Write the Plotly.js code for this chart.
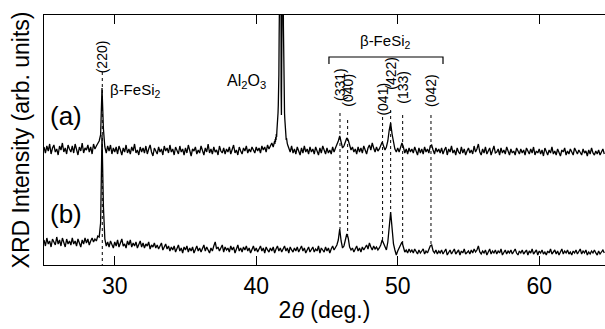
<!DOCTYPE html>
<html><head><meta charset="utf-8">
<script src="https://cdn.plot.ly/plotly-3.0.1.min.js"></script>
<style>html,body{margin:0;padding:0;background:#fff}</style>
</head><body><div id="chart" style="width:605px;height:329px"></div>
<script>
// 2theta grid: start and step (deg.)
const twoThetaStart = 25;
const twoThetaStep = 0.1;

// trace (a), arbitrary units (offset for display); null where the fine Al2O3 scan takes over
const intensityA = [
118,112,119,114,121,111,117,120,113,116,
110,119,115,122,113,117,111,120,116,113,
119,112,121,115,110,118,114,122,112,117,
115,120,113,118,111,121,116,119,122,124,
130,177,136,118,112,119,114,120,111,117,
113,118,111,119,115,110,117,113,120,112,
116,111,118,114,121,112,115,110,118,113,
117,112,119,111,116,120,113,109,117,114,
111,118,113,116,110,119,114,117,112,120,
113,116,110,118,114,111,119,113,116,110,
117,112,120,113,109,116,114,118,111,115,
112,119,114,110,117,113,121,112,116,111,
118,113,115,110,119,114,112,117,111,116,
113,118,111,116,120,112,115,110,118,114,
111,117,114,119,112,116,113,118,115,112,
118,114,117,112,119,115,118,113,120,116,
119,122,118,124,null,null,null,null,null,null,
null,null,121,117,113,119,112,116,111,118,
114,110,117,112,119,113,116,111,118,113,
116,111,118,113,110,117,112,119,114,111,
117,112,115,111,118,113,117,120,124,129,
122,117,119,123,127,125,119,115,118,113,
116,111,118,113,117,112,119,114,111,117,
120,115,122,117,113,118,114,116,119,123,
119,115,118,124,135,142,131,121,116,113,
117,113,118,122,118,112,116,111,117,113,
116,112,118,113,110,117,112,116,111,118,
113,116,112,119,120,115,111,117,113,116,
112,117,111,115,118,110,116,113,119,112,
115,110,117,113,111,118,112,116,110,114,
117,112,115,111,119,113,116,121,113,110,
116,112,118,111,114,117,110,115,119,112,
113,116,110,117,112,115,111,118,113,110,
116,112,114,110,117,113,111,116,112,115,
110,117,113,111,116,112,118,110,114,112,
116,111,115,109,117,113,110,115,112,118,
111,114,110,116,112,109,115,113,117,110,
114,111,116,112,110,117,113,111,115,112,
110,116,112,114,109,115,111,117,112,110,
114,111,115,110,113,116,111
];

// trace (a), fine scan over the Al2O3 substrate peak
const al2o3Start = 41.3;
const al2o3Step = 0.02;
const intensityA_Al2O3 = [
124,121,126,123,128,125,131,128,134,137,
141,146,152,160,172,190,230,300,400,330,
400,360,400,175,150,200,400,320,400,340,
400,240,195,172,160,152,146,139,136,131,
129,125,127,122,124,121
];

// trace (b)
const intensityB = [
25,19,27,21,24,18,26,22,20,28,
21,25,19,27,22,18,26,21,24,20,
27,21,24,19,26,22,18,25,21,27,
22,26,20,24,27,23,26,24,29,28,
42,130,58,26,19,23,18,24,20,17,
23,19,25,18,22,26,19,21,17,24,
20,25,18,22,19,23,17,21,24,18,
22,17,21,19,23,16,20,18,22,17,
20,16,19,22,15,18,21,16,19,14,
18,15,19,13,17,20,14,17,12,18,
15,19,13,17,14,18,12,16,19,14,
17,13,16,20,14,18,15,12,17,14,
19,23,16,18,14,17,20,13,18,15,
17,13,19,15,18,12,16,20,14,17,
13,18,15,19,14,17,12,16,19,14,
17,13,16,19,14,17,12,18,15,13,
17,14,18,12,16,19,14,17,13,16,
19,14,17,12,18,15,13,17,14,18,
13,16,19,14,17,12,16,18,13,15,
18,13,16,14,19,12,17,15,13,18,
14,17,12,16,19,15,18,20,25,36,
24,17,19,25,31,27,18,15,17,13,
16,19,14,17,13,18,15,17,20,16,
22,18,15,19,16,18,15,17,20,25,
21,17,15,23,39,53,37,21,15,10,
14,17,19,23,18,13,15,12,16,13,
15,12,16,13,11,15,12,14,16,11,
14,12,16,19,20,14,12,15,11,14,
12,15,11,14,16,10,13,15,11,14,
16,11,13,15,10,14,12,16,11,13,
14,11,15,12,16,13,15,19,13,11,
14,12,15,10,13,16,11,14,12,15,
11,14,12,16,10,13,15,11,14,12,
15,11,13,16,12,10,14,12,15,11,
13,15,10,14,12,16,11,13,15,10,
14,12,15,11,13,10,14,12,16,11,
13,15,11,14,10,13,16,11,14,12,
15,11,13,10,14,12,15,11,13,16,
11,14,12,15,10,13,11,14,12,15,
12,10,14,11,13,15,12
];

// beta-FeSi2 reflections
const peakLabels = ['(220)', '(331)', '(040)', '(041)', '(422)', '(133)', '(042)'];
const peakPositions = [29.12, 45.92, 46.46, 48.93, 49.5, 50.35, 52.35];
const xTickVals = [30, 40, 50, 60];

const FONT = 'Liberation Sans, Arial, Helvetica, sans-serif';
const LINE = {color: '#000', width: 1.3};

const traces = [
  {type: 'scatter', mode: 'lines', x0: twoThetaStart, dx: twoThetaStep, y: intensityA,
   line: LINE, connectgaps: false, hoverinfo: 'skip', showlegend: false},
  {type: 'scatter', mode: 'lines', x0: al2o3Start, dx: al2o3Step, y: intensityA_Al2O3,
   line: LINE, hoverinfo: 'skip', showlegend: false},
  {type: 'scatter', mode: 'lines', x0: twoThetaStart, dx: twoThetaStep, y: intensityB,
   line: LINE, hoverinfo: 'skip', showlegend: false}
];

// label layout (display positions)
const labelY = [208, 181, 175, 166, 192, 178, 175];
const dotTop = [193, 152, 145, 148, 155, 150, 150];

function bValueAt(x) {
  const i = Math.round((x - twoThetaStart) / twoThetaStep);
  return intensityB[i];
}

const shapes = [];
const annotations = [];
peakPositions.forEach((p, k) => {
  shapes.push({type: 'line', xref: 'x', yref: 'y', x0: p, x1: p,
    y0: dotTop[k], y1: k === 0 ? 0 : bValueAt(p),
    line: {color: '#000', width: 1, dash: 'dot'}});
  annotations.push({xref: 'x', yref: 'y', x: p, y: labelY[k], text: peakLabels[k],
    textangle: -90, showarrow: false, xanchor: 'center', yanchor: 'middle',
    font: {family: FONT, size: 14, color: '#000'}});
});

// bracket over beta-FeSi2 group
const bracketX = [45.14, 53.2];
shapes.push({type: 'path', xref: 'x', yref: 'y',
  path: `M ${bracketX[0]} 201 L ${bracketX[0]} 208 L ${bracketX[1]} 208 L ${bracketX[1]} 201`,
  line: {color: '#000', width: 1.2}});

annotations.push(
  {xref: 'x', yref: 'y', x: 29.5, y: 175, text: 'β-FeSi<sub>2</sub>', showarrow: false,
   xanchor: 'left', yanchor: 'middle', font: {family: FONT, size: 15, color: '#000'}},
  {xref: 'x', yref: 'y', x: 49.1, y: 224, text: 'β-FeSi<sub>2</sub>', showarrow: false,
   xanchor: 'center', yanchor: 'middle', font: {family: FONT, size: 15, color: '#000'}},
  {xref: 'x', yref: 'y', x: 39.3, y: 184, text: 'Al<sub>2</sub>O<sub>3</sub>', showarrow: false,
   xanchor: 'center', yanchor: 'middle', font: {family: FONT, size: 16, color: '#000'}},
  {xref: 'x', yref: 'y', x: 26.55, y: 149, text: '(a)', showarrow: false,
   xanchor: 'center', yanchor: 'middle', font: {family: FONT, size: 26, color: '#000'}},
  {xref: 'x', yref: 'y', x: 26.55, y: 51, text: '(b)', showarrow: false,
   xanchor: 'center', yanchor: 'middle', font: {family: FONT, size: 26, color: '#000'}}
);

const layout = {
  width: 605, height: 329,
  margin: {l: 44, r: 0, t: 15, b: 64},
  paper_bgcolor: '#fff', plot_bgcolor: '#fff',
  font: {family: FONT, color: '#000'},
  showlegend: false,
  xaxis: {
    range: [25, 64.65], tickvals: xTickVals, ticktext: xTickVals.map(String),
    ticks: 'inside', ticklen: 9, tickwidth: 1.2, tickcolor: '#000',
    showline: true, linecolor: '#000', linewidth: 1.2, mirror: 'ticks',
    showgrid: false, zeroline: false,
    tickfont: {family: FONT, size: 23, color: '#000'},
    title: {text: '2<i>θ</i> (deg.)', font: {family: FONT, size: 23, color: '#000'}, standoff: 4}
  },
  yaxis: {
    range: [0, 250], showticklabels: false, ticks: '',
    showline: true, linecolor: '#000', linewidth: 1.2, mirror: false,
    showgrid: false, zeroline: false,
    title: {text: 'XRD Intensity (arb. units)', font: {family: FONT, size: 23, color: '#000'}, standoff: 6}
  },
  shapes: shapes,
  annotations: annotations
};

Plotly.newPlot('chart', traces, layout, {staticPlot: true, displayModeBar: false});
</script>
</body></html>
